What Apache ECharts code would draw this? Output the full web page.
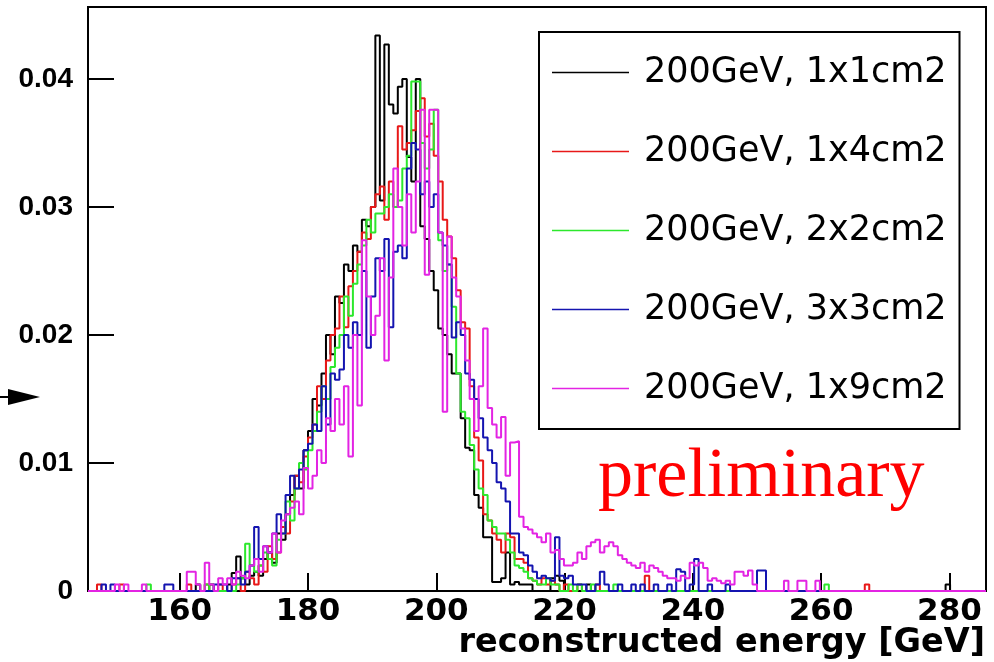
<!DOCTYPE html>
<html><head><meta charset="utf-8">
<script src="https://cdn.jsdelivr.net/npm/echarts/dist/echarts.min.js"></script>
<style>html,body{margin:0;padding:0;background:#fff}#c{width:994px;height:662px}</style>
</head><body><div id="c"></div>
<script>
// Histogram binning (GeV)
const binStart = 145.7;
const binWidth = 0.7;
// bin contents are given in units of 1e-4 (normalised entries)
const UNIT = 1e-4;

const seriesNames = ['200GeV, 1x1cm2','200GeV, 1x4cm2','200GeV, 2x2cm2','200GeV, 3x3cm2','200GeV, 1x9cm2'];
const xTicks = [160,180,200,220,240,260,280];
const yTicks = [0,0.01,0.02,0.03,0.04];
const xTitle = 'reconstructed energy [GeV]';

const h1x1 = [
0,0,0,0,0,0,0,0,0,0, 0,0,0,0,0,0,0,0,0,0, 0,0,0,0,5,0,0,5,0,0, 0,5,14,27,10,5,12,15,12,25,
30,22,45,40,60,75,90,80,110,125, 150,145,170,200,185,230,225,255,250,270,
265,290,285,300,434,305,427,380,373,394, 400,339,320,400,285,275,250,235,205,200,
185,170,170,135,112,110,75,65,42,42, 7,7,10,30,5,7,5,5,5,0,
0,0,0,10,12,8,0,0,0,0, 0,5,0,0,0,0,0,0,0,0, 0,0,0,0,0,0,0,0,0,0, 0,0,0,0,0,0,0,0,0,0,
0,0,0,0,0,0,0,0,0,0, 0,0,0,0,0,0,0,0,0,0, 0,0,0,0,0,0,0,0,0,0, 0,0,0,0,0,0,0,0,0,0,
0,0,0,0,0,0,0,0,0,0, 0,5,0,0,0,0,0,0,0,0];

const h1x4 = [
0,0,5,0,0,0,0,5,0,0, 0,0,0,0,0,0,0,0,0,0, 0,0,5,0,0,0,5,0,0,5, 0,0,5,10,0,15,10,5,20,15,
35,25,30,50,45,70,90,85,105,120, 130,160,150,180,200,205,230,206,238,250,
265,280,275,300,310,316,290,320,300,363, 345,350,360,375,385,355,365,340,320,290,
277,260,235,210,205,160,120,102,60,55, 45,40,30,45,42,25,25,22,10,8,
5,10,5,8,5,0,5,0,0,5, 0,0,0,5,0,0,0,0,0,0, 0,0,0,0,12,0,0,0,0,0, 0,0,0,0,0,0,0,0,0,0,
0,0,0,0,0,0,0,0,0,0, 0,0,0,0,0,0,0,0,0,0, 0,0,0,0,0,0,0,0,0,0, 0,0,0,5,0,0,0,0,0,0,
0,0,0,0,0,0,0,0,0,0, 0,0,0,0,0,0,0,0,0,0];

const h2x2 = [
0,0,0,0,0,0,0,0,0,0, 0,0,0,5,0,0,0,0,0,0, 0,0,0,0,0,0,5,0,0,0, 0,0,0,5,10,37,20,15,20,30,
25,20,40,45,70,55,80,100,95,110, 125,140,160,150,175,190,200,230,215,240,
255,270,290,280,295,295,300,310,300,305, 330,340,398,398,350,330,345,376,274,250,
255,222,170,140,135,114,95,80,75,55, 50,45,45,40,30,20,18,15,10,8,
5,5,10,5,5,0,0,5,0,5, 0,0,5,0,0,0,0,5,0,0, 0,0,0,0,0,0,0,0,0,0, 0,0,0,0,0,0,0,0,0,0,
0,0,0,0,0,0,0,0,0,0, 0,0,0,0,0,0,0,0,0,0, 0,0,0,0,5,0,0,0,0,0, 0,0,0,0,0,0,0,0,0,0,
0,0,0,0,0,0,0,0,0,0, 0,0,0,0,0,0,0,0,0,0];

const h3x3 = [
0,0,0,5,0,5,0,0,0,0, 0,0,0,0,0,0,0,5,5,0, 0,0,0,0,0,0,0,0,5,5, 5,0,10,10,5,15,20,50,25,35,
30,45,60,45,75,90,80,95,110,115, 130,125,160,130,170,165,173,200,190,210,
200,250,190,230,260,250,275,206,265,270, 260,330,350,345,310,320,300,310,280,270,
255,198,210,200,170,165,150,135,120,110, 100,85,80,70,45,45,30,28,20,15,
10,12,10,8,42,12,10,12,5,5, 5,0,0,5,15,5,0,0,5,0, 0,5,0,5,0,0,5,0,0,5, 0,17,15,0,5,25,0,0,5,0,
0,0,5,0,0,0,0,0,0,16, 16,0,0,0,0,0,0,0,0,0, 0,0,0,0,0,0,0,0,0,0, 0,0,0,0,0,0,0,0,0,0,
0,0,0,0,0,0,0,0,0,0, 0,0,0,0,0,0,0,0,0,0];

const h1x9 = [
0,0,0,0,0,0,5,0,5,0, 0,0,5,0,0,0,0,0,0,0, 0,0,15,15,5,0,22,5,0,10, 5,10,5,15,12,10,20,25,15,35,
30,45,30,55,60,65,70,60,96,80, 90,110,100,135,125,150,130,160,105,200,
145,274,230,200,215,260,180,245,330,300, 270,310,280,320,376,247,376,376,280,140,
277,245,230,205,180,150,125,160,205,143, 130,120,136,90,116,117,58,50,48,45,
42,38,45,30,32,25,20,20,22,30, 25,35,38,40,30,35,38,35,28,25, 22,20,18,22,15,20,18,15,12,10, 10,8,12,10,22,20,22,18,8,10,
8,6,8,5,15,15,12,16,5,0, 0,0,0,0,0,8,0,0,8,8, 0,0,8,0,0,0,0,0,0,0, 0,0,0,0,0,0,0,0,0,0,
0,0,0,0,0,0,0,0,0,0, 0,0,0,0,0,0,0,0,0,0];

const histograms = [h1x1, h1x4, h2x2, h3x3, h1x9];
const colors = ['#000000', '#e81818', '#2ce82c', '#1414b0', '#e324e3'];

function stepPoints(vals) {
  const pts = [[binStart, 0]];
  vals.forEach((v, i) => pts.push([binStart + i * binWidth, v * UNIT]));
  pts.push([binStart + vals.length * binWidth, 0]);
  return pts;
}

const chart = echarts.init(document.getElementById('c'), null, {renderer: 'canvas'});
const boldFont = 'DejaVu Sans';

chart.setOption({
  animation: false,
  backgroundColor: '#fff',
  grid: {left: 88, right: 8, top: 7, bottom: 71, containLabel: false, outerBoundsMode: 'none',
    show: true, borderColor: '#000', borderWidth: 2, backgroundColor: 'transparent'},
  xAxis: {
    type: 'value', min: binStart, max: binStart + 200 * binWidth,
    axisLine: {show: true, lineStyle: {color: '#000', width: 2}},
    axisTick: {show: true, inside: true, length: 18, lineStyle: {color: '#000', width: 2}, customValues: xTicks},
    axisLabel: {show: true, customValues: xTicks, margin: 5, fontFamily: boldFont, fontWeight: 'bold', fontSize: 31, color: '#000'},
    splitLine: {show: false}
  },
  yAxis: {
    type: 'value', min: 0, max: 0.045625,
    axisLine: {show: true, lineStyle: {color: '#000', width: 2}},
    axisTick: {show: true, inside: true, length: 26, lineStyle: {color: '#000', width: 2}, customValues: yTicks},
    axisLabel: {show: true, customValues: yTicks, margin: 15, fontFamily: 'Liberation Sans', fontWeight: 'bold', fontSize: 28, color: '#000',
      formatter: v => (v === 0 ? '0' : v.toFixed(2))},
    splitLine: {show: false}
  },
  legend: {
    orient: 'vertical', left: 539, top: 32,
    padding: [23, 13, 23, 13], itemGap: 44, itemWidth: 77, itemHeight: 1.5, icon: 'rect',
    borderColor: '#000', borderWidth: 2, backgroundColor: '#fff',
    textStyle: {fontFamily: 'DejaVu Sans', fontSize: 35, color: '#000', padding: [0, 0, 0, 10]},
    data: seriesNames
  },
  graphic: [
    {type: 'text', right: 9, top: 626, z: 100,
      style: {text: xTitle, font: 'bold 33.5px "DejaVu Sans"', fill: '#000'}},
    {type: 'text', left: 598, top: 443, z: 100,
      style: {text: 'preliminary', font: '70px "Liberation Serif"', fill: '#ff0000'}},
    {type: 'polygon', z: 100, shape: {points: [[8, 389], [40, 397], [8, 405]]}, style: {fill: '#000'}},
    {type: 'line', z: 100, shape: {x1: 0, y1: 397, x2: 12, y2: 397}, style: {stroke: '#000', lineWidth: 2}}
  ],
  series: histograms.map((h, i) => ({
    name: seriesNames[i], type: 'line', step: 'end', symbol: 'none',
    data: stepPoints(h), lineStyle: {color: colors[i], width: 2}, itemStyle: {color: colors[i]},
    clip: true
  }))
});
</script></body></html>
